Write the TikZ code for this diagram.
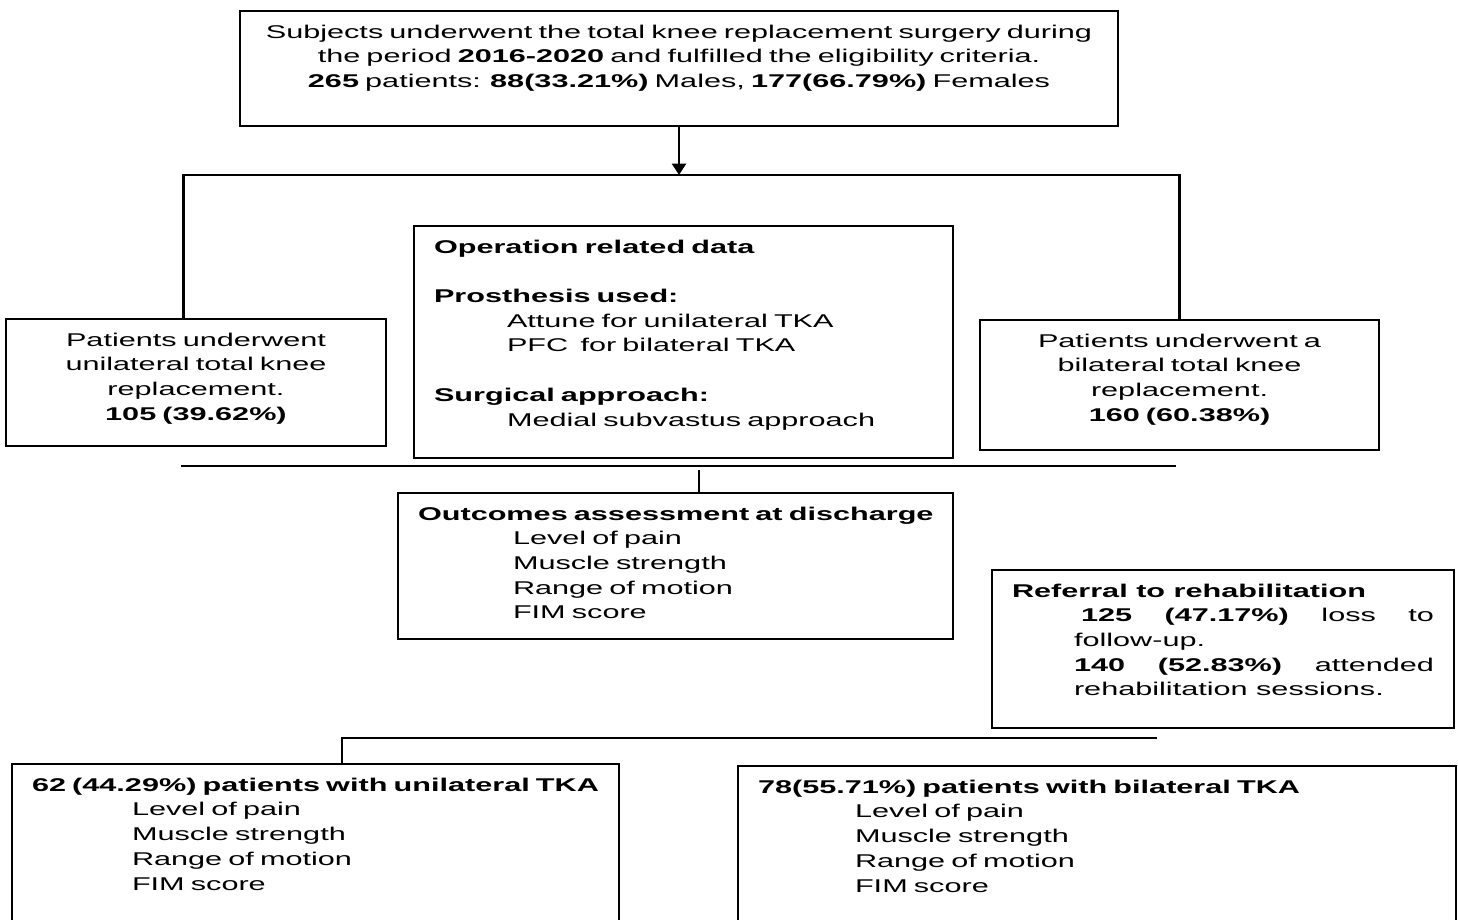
\documentclass[tikz,border=0pt]{standalone}
\usepackage{fontspec}
\setmainfont{Liberation Sans}[FakeStretch=1.66]
\usepackage{tikz}
\usetikzlibrary{arrows.meta, positioning}
\tikzset{
	block/.style={rectangle, draw=black, line width=1.15pt, text width=#1, align=left,
		inner xsep=0.4cm, inner ysep=0.28cm, text height=7.5pt, font=\fontsize{10.5pt}{14.06pt}\selectfont},
	cblock/.style={block={#1}, align=center},
	jblock/.style={block={#1}, align=justify},
	link/.style={line width=1.5pt},
	arrow/.style={-{Triangle[length=6.5pt, width=8pt]}, line width=1.5pt},
}
\begin{document}
\begin{tikzpicture}[node distance=0.66cm and 0.5cm]
		\useasboundingbox (0,0) rectangle (29.16,-18.4);
		\node[cblock=16.76cm, text depth=1.475cm, anchor=north](subj) at (13.58,-0.2){Subjects underwent the total knee replacement surgery during\\the period \textbf{2016-2020} and fulfilled the eligibility criteria.\\\textbf{265} patients: \textbf{88(33.21\%)} Males, \textbf{177(66.79\%)} Females};
		\node[block=9.98cm, text depth=3.815cm, below=1.96cm of subj, xshift=0.09cm](oper){\textbf{Operation related data}\par\vspace{\baselineskip}
			\textbf{Prosthesis used:}\par
			{\leftskip=1.46cm Attune for unilateral TKA\\PFC\ \ for bilateral TKA\par}\vspace{\baselineskip}
			\textbf{Surgical approach:}\par
			{\leftskip=1.46cm Medial subvastus approach\par}};
		\node[cblock=6.80cm, text depth=1.715cm, below left=1.86cm and 0.52cm of oper.north west](uni){Patients underwent\\unilateral total knee\\replacement.\\\textbf{105 (39.62\%)}};
		\node[cblock=7.18cm, text depth=1.775cm, below right=1.88cm and 0.50cm of oper.north east](bi){Patients underwent a\\bilateral total knee\\replacement.\\\textbf{160 (60.38\%)}};
		\node[block=10.30cm, text depth=2.095cm, below=0.66cm of oper, xshift=-0.16cm](outc){\mbox{\textbf{Outcomes assessment at discharge}}\par
			{\leftskip=1.9cm Level of pain\\Muscle strength\\Range of motion\\FIM score\par}};
		\node[jblock=8.44cm, text depth=2.335cm, below right=1.54cm and 0.74cm of outc.north east](refer){\textbf{Referral to rehabilitation}\par
			{\leftskip=1.24cm\hspace*{0.14cm}\textbf{125 (47.17\%)} loss to\linebreak follow-up.\par
			\textbf{140 (52.83\%)} attended\linebreak rehabilitation sessions.\par}};
		\node[block=11.34cm, text depth=2.775cm, anchor=north west](uniout) at (0.22,-15.26){\mbox{\textbf{62 (44.29\%) patients with unilateral TKA}}\par
			{\leftskip=2.0cm Level of pain\\Muscle strength\\Range of motion\\FIM score\par}};
		\node[block=13.56cm, text depth=2.775cm, anchor=north west](biout) at (14.74,-15.30){\textbf{78(55.71\%) patients with bilateral TKA}\par
			{\leftskip=1.94cm Level of pain\\Muscle strength\\Range of motion\\FIM score\par}};
		\coordinate[below=0.96cm of subj](split);
		\draw[arrow](subj)--(split);
		\draw[link]([xshift=-0.25cm]uni.north)|-(split)-|(bi.north);
		\coordinate (join) at (3.62,-9.32);\coordinate (joinr) at (23.52,-9.32);
		\coordinate[above=0.44cm of outc.north, xshift=0.47cm](merge);
		\draw[link](join)--(joinr);\draw[link](merge)--(merge|-outc.north);
		\coordinate (refl) at (6.84,-14.76);\coordinate (refr) at (23.14,-14.76);
		\draw[link](refr)--(refl)--(refl|-uniout.north);
\end{tikzpicture}
\end{document}
